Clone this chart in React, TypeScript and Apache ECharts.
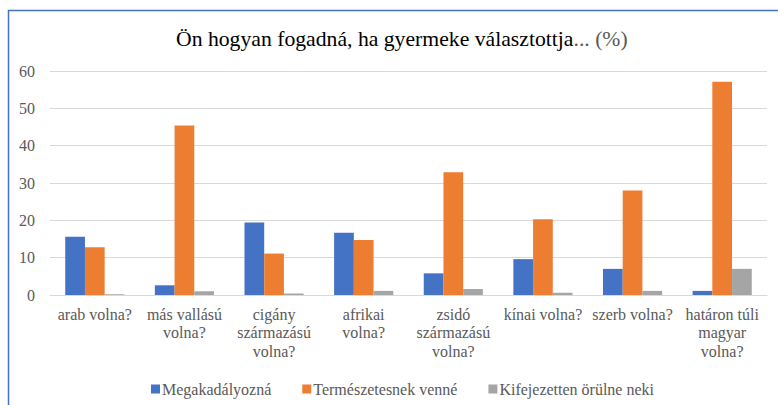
import React, { useEffect, useRef } from "react";
import * as echarts from "echarts";

const categories = [
  "arab volna?",
  "más vallású\nvolna?",
  "cigány\nszármazású\nvolna?",
  "afrikai\nvolna?",
  "zsidó\nszármazású\nvolna?",
  "kínai volna?",
  "szerb volna?",
  "határon túli\nmagyar\nvolna?",
];
const megakadalyozna = [15.6, 2.6, 19.4, 16.7, 5.8, 9.6, 7.0, 1.1];
const termeszetesnek = [12.8, 45.4, 11.1, 14.7, 32.9, 20.3, 28.0, 57.1];
const orulne = [0.2, 1.0, 0.4, 1.1, 1.6, 0.6, 1.1, 7.0];
const seriesNames = ["Megakadályozná", "Természetesnek venné", "Kifejezetten örülne neki"];

const FONT = "Liberation Serif";

export default function App() {
  const ref = useRef<HTMLDivElement>(null);
  useEffect(() => {
    const chart = echarts.init(ref.current!, null, { renderer: "svg" });
    chart.setOption({
      animation: false,
      backgroundColor: "#ffffff",
      textStyle: { fontFamily: FONT },
      title: {
        text: "{a|Ön hogyan fogadná, ha gyermeke választottja}{b|... (%)}",
        left: 171,
        top: 23,
        textStyle: {
          fontFamily: FONT,
          fontWeight: "normal",
          fontSize: 21.7,
          rich: {
            a: { fontFamily: FONT, fontWeight: "normal", fontSize: 21.7, color: "#000000" },
            b: { fontFamily: FONT, fontWeight: "normal", fontSize: 21.7, color: "#595959" },
          },
        },
      },
      graphic: [
        {
          type: "rect",
          shape: { x: 8.5, y: 10.5, width: 900, height: 600 },
          style: { fill: "none", stroke: "#4472C4", lineWidth: 1.5 },
          silent: true,
        },
      ],
      legend: {
        bottom: 3,
        left: 146,
        itemWidth: 9,
        itemHeight: 9,
        itemGap: 31,
        icon: "rect",
        textStyle: { fontFamily: FONT, fontSize: 16, color: "#595959", padding: [0, 0, 0, -3] },
        data: seriesNames,
      },
      grid: { left: 50, right: 11, top: 71, bottom: 110 },
      xAxis: {
        type: "category",
        data: categories,
        axisLine: { lineStyle: { color: "#d9d9d9", width: 1 } },
        axisTick: { show: false },
        axisLabel: {
          interval: 0,
          margin: 10,
          fontFamily: FONT,
          fontSize: 16,
          lineHeight: 18.5,
          color: "#595959",
        },
      },
      yAxis: {
        type: "value",
        min: 0,
        max: 60,
        interval: 10,
        axisLine: { show: false },
        axisTick: { show: false },
        splitLine: { lineStyle: { color: "#d9d9d9", width: 1 } },
        axisLabel: { margin: 15, fontFamily: FONT, fontSize: 16, color: "#595959" },
      },
      series: [
        { name: seriesNames[0], type: "bar", data: megakadalyozna, itemStyle: { color: "#4472C4" }, barGap: "0%", barCategoryGap: "34%" },
        { name: seriesNames[1], type: "bar", data: termeszetesnek, itemStyle: { color: "#ED7D31" }, barGap: "0%", barCategoryGap: "34%" },
        { name: seriesNames[2], type: "bar", data: orulne, itemStyle: { color: "#A5A5A5" }, barGap: "0%", barCategoryGap: "34%" },
      ],
    });
    return () => chart.dispose();
  }, []);
  return (
    <div
      ref={ref}
      style={{ position: "absolute", left: 0, top: 0, width: 778, height: 405 }}
    />
  );
}
